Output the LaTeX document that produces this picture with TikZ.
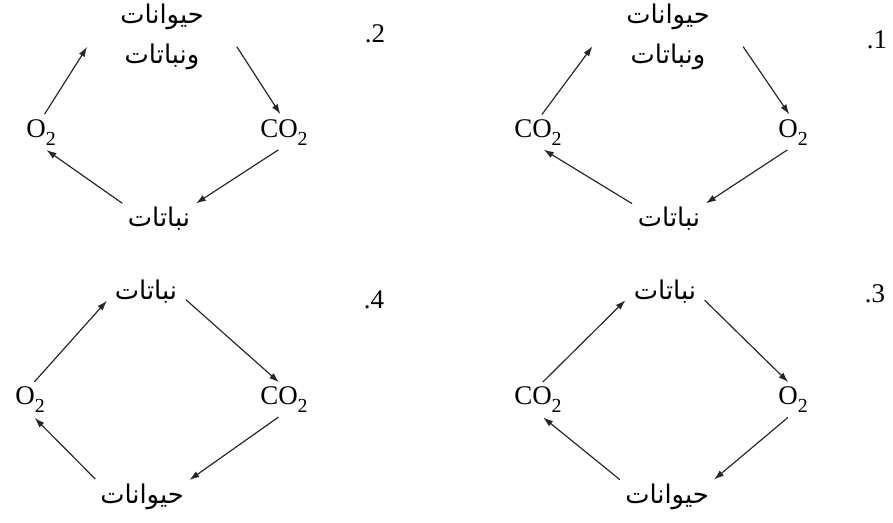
\documentclass[tikz,border=0pt]{standalone}
\usepackage{fontspec}
\setmainfont{Liberation Serif}
\newfontfamily\arabicfont[Script=Arabic]{DejaVu Sans}
\TeXXeTstate=1
\usetikzlibrary{arrows.meta}
\newcommand{\tief}[1]{\raisebox{-0.3em}{\fontsize{17}{17}\selectfont #1}}

\begin{document}
\begin{tikzpicture}[x=0.03cm, y=-0.03cm,
    chem/.style={inner sep=0pt, font=\fontsize{23}{23}\selectfont},
    arab/.style={inner sep=0pt, font=\arabicfont\fontsize{22}{34}\selectfont, align=center},
    nummer/.style={inner sep=0pt, font=\fontsize{23}{23}\selectfont},
    pfeil/.style={-{Latex[length=3mm, width=2mm]}, line width=1pt, black!85, shorten <=2mm, shorten >=2mm}]
    \useasboundingbox (0,0) rectangle (893,522);

    % Kreislauf 1
    \node[arab, minimum width=4.1cm] (top1) at (668,37) {\beginR حيوانات\endR\\\beginR ونباتات\endR};
    \node[chem] (left1) at (538,133) {CO\tief{2}};
    \node[chem] (right1) at (793,133) {O\tief{2}};
    \node[arab] (bot1) at (669,219) {\beginR نباتات\endR};
    \node[nummer] (n1) at (877,40) {.1};
    \draw[pfeil, shorten >=3.5mm] (left1.north) -- (top1.west);
    \draw[pfeil, shorten <=3.5mm] (top1.east) -- (right1.north);
    \draw[pfeil] (right1.south) -- (bot1.north east);
    \draw[pfeil] (bot1.north west) -- (left1.south);

    % Kreislauf 2
    \node[arab, minimum width=4.1cm] (top2) at (162,37) {\beginR حيوانات\endR\\\beginR ونباتات\endR};
    \node[chem] (left2) at (41,133) {O\tief{2}};
    \node[chem] (right2) at (284,133) {CO\tief{2}};
    \node[arab] (bot2) at (159,219) {\beginR نباتات\endR};
    \node[nummer] (n2) at (375,34) {.2};
    \draw[pfeil, shorten >=3.5mm] (left2.north) -- (top2.west);
    \draw[pfeil, shorten <=3.5mm] (top2.east) -- (right2.north);
    \draw[pfeil] (right2.south) -- (bot2.north east);
    \draw[pfeil] (bot2.north west) -- (left2.south);

    % Kreislauf 3
    \node[arab] (top3) at (665,292) {\beginR نباتات\endR};
    \node[chem] (left3) at (538,400) {CO\tief{2}};
    \node[chem] (right3) at (793,400) {O\tief{2}};
    \node[arab] (bot3) at (667,497) {\beginR حيوانات\endR};
    \node[nummer] (n3) at (875,294) {.3};
    \draw[pfeil, shorten >=3.5mm] (left3.north) -- (top3.west);
    \draw[pfeil, shorten <=3.5mm] (top3.east) -- (right3.north);
    \draw[pfeil] (right3.south) -- (bot3.north east);
    \draw[pfeil] (bot3.north west) -- (left3.south);

    % Kreislauf 4
    \node[arab] (top4) at (146,292) {\beginR نباتات\endR};
    \node[chem] (left4) at (30,400) {O\tief{2}};
    \node[chem] (right4) at (284,400) {CO\tief{2}};
    \node[arab] (bot4) at (142,497) {\beginR حيوانات\endR};
    \node[nummer] (n4) at (374,300) {.4};
    \draw[pfeil, shorten >=3.5mm] (left4.north) -- (top4.west);
    \draw[pfeil, shorten <=3.5mm] (top4.east) -- (right4.north);
    \draw[pfeil] (right4.south) -- (bot4.north east);
    \draw[pfeil] (bot4.north west) -- (left4.south);
\end{tikzpicture}
\end{document}
